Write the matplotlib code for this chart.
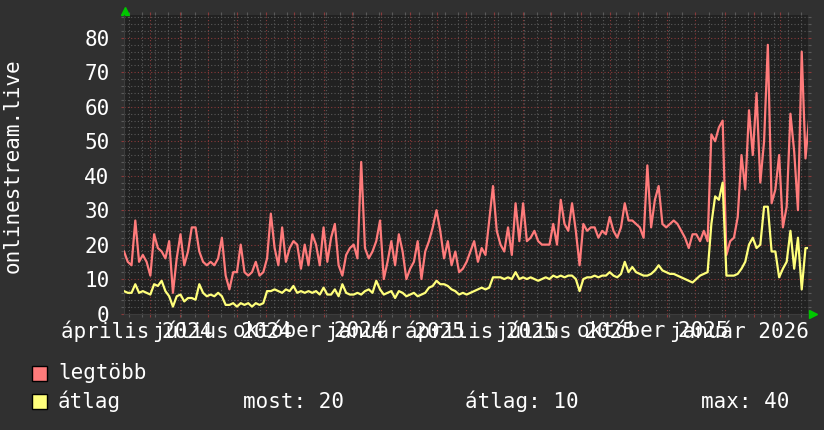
import pandas as pd
import matplotlib
matplotlib.use("Agg")
import matplotlib.pyplot as plt
import matplotlib.dates as mdates
from matplotlib.patches import Rectangle
from matplotlib.ticker import MultipleLocator

# daily samples every 4 days
start_date = "2024-04-03"
legtobb = [18, 15, 14, 27, 15, 17, 15, 11, 23, 19,
           18, 16, 21, 6, 16, 23, 14, 18, 25, 25,
           18, 15, 14, 15, 14, 16, 22, 11, 7, 12,
           12, 20, 12, 11, 12, 15, 11, 12, 16, 29,
           19, 14, 25, 15, 19, 21, 20, 13, 20, 14,
           23, 20, 14, 25, 15, 22, 26, 14, 11, 17,
           19, 20, 16, 44, 19, 16, 18, 21, 27, 10,
           15, 21, 14, 23, 18, 10, 13, 15, 21, 10,
           18, 21, 25, 30, 24, 16, 21, 14, 18, 12,
           13, 15, 18, 21, 15, 19, 17, 27, 37, 24,
           20, 18, 25, 17, 32, 21, 32, 21, 22, 24,
           21, 20, 20, 20, 26, 20, 33, 26, 24, 32,
           24, 14, 26, 24, 25, 25, 22, 24, 23, 28,
           24, 22, 25, 32, 27, 27, 26, 25, 22, 43,
           25, 33, 37, 26, 25, 26, 27, 26, 24, 22,
           19, 23, 23, 21, 24, 21, 52, 50, 54, 56,
           17, 21, 22, 28, 46, 36, 59, 46, 64, 38,
           50, 78, 32, 36, 46, 25, 31, 58, 47, 30,
           76, 45, 57]
atlag = [6.5, 6, 6, 8.5, 6, 6.5, 6, 5.5, 8.5, 8,
         9.5, 6.5, 5, 2, 5, 5.5, 3.5, 4.5, 4.5, 4,
         8.5, 6, 5, 5.5, 5, 6, 5, 2.5, 2.5, 3,
         2, 3, 2.5, 3, 2, 3, 2.5, 3, 6.5, 6.5,
         7, 6.5, 6, 7, 6.5, 8, 6, 6.5, 6, 6.5,
         6, 6.5, 5.5, 7.5, 5.5, 5.5, 7, 5, 8.5, 6,
         5.5, 5.5, 6, 5.5, 6.5, 7, 6, 9.5, 7, 5.5,
         6, 6.5, 4.5, 6.5, 6, 5, 5.5, 6, 5, 5.5,
         6, 7.5, 8, 9.5, 8.5, 8.5, 8, 7, 6.5, 5.5,
         6, 5.5, 6, 6.5, 7, 7.5, 7, 7.5, 10.5, 10.5,
         10.5, 10, 10.5, 10, 12, 10, 10.5, 10, 10.5, 10,
         9.5, 10, 10.5, 10, 11, 10.5, 11, 10.5, 11, 11,
         10, 6.5, 10, 10.5, 10.5, 11, 10.5, 11, 11, 12,
         11, 10.5, 11.5, 15, 12, 13.5, 12, 11.5, 11, 11,
         11.5, 12.5, 14, 12.5, 12, 11.5, 11.5, 11, 10.5, 10,
         9.5, 9, 10, 11, 11.5, 12, 26, 34, 33, 38,
         11, 11, 11, 11.5, 13, 15, 20, 22, 19, 20,
         31, 31, 18, 18, 10.5, 13, 15, 24, 13, 22,
         7, 19, 19]

month_labels = ["április 2024", "július 2024", "október 2024", "január 2025",
                "április 2025", "július 2025", "október 2025", "január 2026"]
label_months = ["2024-04", "2024-07", "2024-10", "2025-01",
                "2025-04", "2025-07", "2025-10", "2026-01"]
legend_names = ["legtöbb", "átlag"]
stats = ["most: 20", "átlag: 10", "max: 40"]

RED = "#ff7b7b"
YELLOW = "#ffff7b"
W, H = 824, 430


def main():
    plt.rcParams["font.family"] = ["DejaVu Sans Mono"]
    fs = 15

    dates = pd.date_range(start_date, periods=len(legtobb), freq="4D")

    fig = plt.figure(figsize=(W / 100, H / 100), dpi=100, facecolor="#303030")
    ax = fig.add_axes([124 / W, (H - 313.5) / H, 684 / W, 299 / H])
    ax.set_facecolor("#212121")

    ax.plot(dates, legtobb, color=RED, lw=1.6, zorder=3)
    ax.plot(dates, atlag, color=YELLOW, lw=1.6, zorder=4)

    ax.set_ylim(0, 86.8)
    ax.set_xlim(pd.Timestamp(start_date), pd.Timestamp("2026-03-30 16:00"))

    # rrdtool-like grid: months red, two-week grey / 10 red, 2 grey
    ax.xaxis.set_major_locator(mdates.MonthLocator())
    ax.xaxis.set_minor_locator(mdates.WeekdayLocator(byweekday=mdates.MO, interval=2))
    ax.yaxis.set_major_locator(MultipleLocator(10))
    ax.yaxis.set_minor_locator(MultipleLocator(2))
    ax.grid(which="minor", color="#5a5a5a", ls=(0, (1, 2)), lw=0.8, zorder=1)
    ax.grid(which="major", color="#8a3a3a", ls=(0, (1, 2)), lw=0.8, zorder=2)
    ax.tick_params(which="both", direction="out", length=2.5, width=0.8,
                   top=True, right=True, labelbottom=False)
    ax.tick_params(which="major", colors="#8a3a3a", labelcolor="white",
                   labelsize=fs, pad=8)
    ax.tick_params(which="minor", colors="#5a5a5a")
    for s in ax.spines.values():
        s.set_visible(False)
    ax.spines["left"].set_visible(True)
    ax.spines["bottom"].set_visible(True)
    ax.spines["left"].set_color("#3c3c3c")
    ax.spines["bottom"].set_color("#3c3c3c")

    # month labels centred inside their month, they overlap like the original
    for m, lab in zip(label_months, month_labels):
        mid = pd.Timestamp(m + "-01") + pd.Timedelta(days=15.5)
        ax.text(mid, -0.06, lab, transform=ax.get_xaxis_transform(),
                ha="center", va="center", color="white", fontsize=fs)

    # green axis arrows
    ax.plot([0.001], [1.012], marker="^", color="#00c800", ms=6,
            transform=ax.transAxes, clip_on=False)
    ax.plot([1.008], [0.0], marker=">", color="#00c800", ms=6,
            transform=ax.transAxes, clip_on=False)

    fig.text(13 / W, 1 - 166 / H, "onlinestream.live", rotation=90,
             ha="center", va="center", color="white", fontsize=fs)

    # legend
    for (name, col, yc) in zip(legend_names, [RED, YELLOW], [373, 401.5]):
        fig.add_artist(Rectangle((32 / W, 1 - (yc + 7.5) / H), 15 / W, 15 / H,
                                 transform=fig.transFigure, facecolor=col,
                                 edgecolor="black", lw=1))
        fig.text(58 / W, 1 - yc / H, name, ha="left", va="center",
                 color="white", fontsize=fs)
    for txt, x in zip(stats, [243, 465, 701]):
        fig.text(x / W, 1 - 401.5 / H, txt, ha="left", va="center",
                 color="white", fontsize=fs)

    fig.savefig("out.png", dpi=100, facecolor=fig.get_facecolor())


if __name__ == "__main__":
    main()
